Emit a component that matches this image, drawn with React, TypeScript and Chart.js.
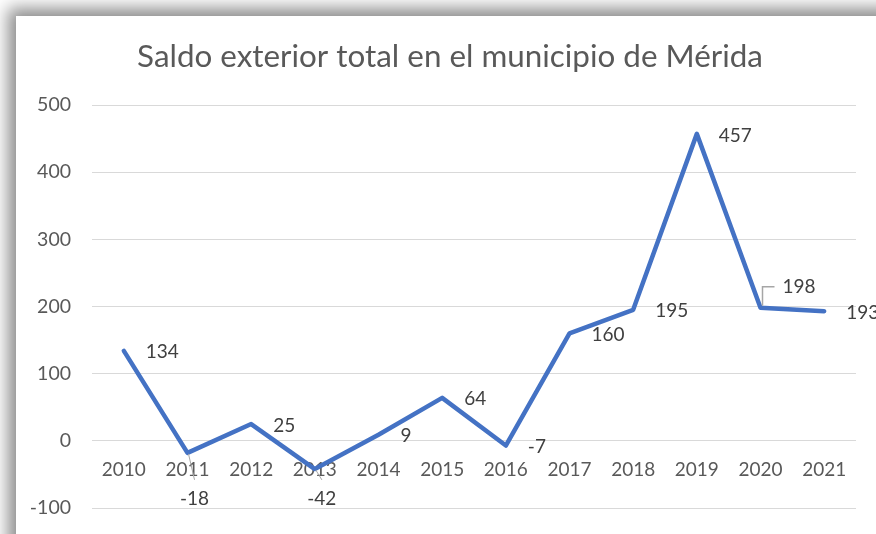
import React, { useEffect, useRef } from "react";
import { Chart, registerables } from "chart.js";

Chart.register(...registerables);

const years = ["2010", "2011", "2012", "2013", "2014", "2015", "2016", "2017", "2018", "2019", "2020", "2021"];
const saldo = [134, -18, 25, -42, 9, 64, -7, 160, 195, 457, 198, 193];
const yMin = -100;
const yMax = 500;
const yStep = 100;
const titleText = "Saldo exterior total en el municipio de Mérida";
// label placement style per point
const labelPlacement = ["right", "below", "right", "below", "right", "right", "right", "right", "right", "right", "callout", "right"];

const FONT = "Lato, 'Open Sans', sans-serif";

const titlePlugin = {
  id: "customTitle",
  afterDraw(chart: any) {
    const ctx = chart.ctx;
    ctx.save();
    ctx.font = `31.4px ${FONT}`;
    ctx.fillStyle = "#595959";
    ctx.textAlign = "center";
    ctx.textBaseline = "middle";
    ctx.fillText(titleText, chart.width / 2 + 4, 41);
    ctx.restore();
  },
};

const dataLabelPlugin = {
  id: "dataLabels",
  afterDatasetsDraw(chart: any) {
    const ctx = chart.ctx;
    const meta = chart.getDatasetMeta(0);
    const zeroY = chart.scales.y.getPixelForValue(0);
    ctx.save();
    ctx.font = `19px ${FONT}`;
    ctx.fillStyle = "#404040";
    ctx.textBaseline = "middle";
    meta.data.forEach((pt: any, i: number) => {
      const x = pt.x;
      const y = pt.y;
      const txt = String(saldo[i]);
      const place = labelPlacement[i];
      if (place === "right") {
        ctx.textAlign = "left";
        ctx.fillText(txt, x + 22, y + 1.5);
      } else if (place === "below") {
        const cy = zeroY + 58;
        ctx.strokeStyle = "#A6A6A6";
        ctx.lineWidth = 1;
        ctx.beginPath();
        ctx.moveTo(x + 1, y + 1);
        ctx.lineTo(x + 7, cy - 19);
        ctx.stroke();
        ctx.textAlign = "center";
        ctx.fillText(txt, x + 7, cy);
      } else if (place === "callout") {
        ctx.strokeStyle = "#A6A6A6";
        ctx.lineWidth = 1.5;
        ctx.beginPath();
        ctx.moveTo(x + 2, y - 2);
        ctx.lineTo(x + 2, y - 21);
        ctx.lineTo(x + 14, y - 21);
        ctx.stroke();
        ctx.textAlign = "left";
        ctx.fillText(txt, x + 22, y - 21);
      }
    });
    ctx.restore();
  },
};

export default function App() {
  const ref = useRef<HTMLCanvasElement | null>(null);
  useEffect(() => {
    if (!ref.current) return;
    const chart = new Chart(ref.current, {
      type: "line",
      data: {
        labels: years,
        datasets: [
          {
            data: saldo,
            borderColor: "#4472C4",
            borderWidth: 4.5,
            borderCapStyle: "round",
            borderJoinStyle: "round",
            pointRadius: 0,
            tension: 0,
            fill: false,
          },
        ],
      },
      options: {
        animation: false,
        responsive: false,
        layout: { padding: { left: 0, right: 20, top: 89, bottom: 26 } },
        plugins: {
          legend: { display: false },
          tooltip: { enabled: false },
          title: { display: false },
        },
        scales: {
          x: {
            type: "category",
            offset: true,
            position: { y: 0 } as any,
            grid: { display: false, drawTicks: false },
            border: { display: false },
            ticks: {
              color: "#595959",
              font: { family: FONT, size: 19 },
              padding: 17.5,
              maxRotation: 0,
              autoSkip: false,
            },
            afterFit(scale: any) {
              scale.height = 0;
            },
          },
          y: {
            min: yMin,
            max: yMax,
            ticks: {
              stepSize: yStep,
              color: "#595959",
              font: { family: FONT, size: 19.5 },
              padding: 0,
            },
            grid: { color: "#D9D9D9", lineWidth: 1, drawTicks: true, tickLength: 21, tickColor: "rgba(0,0,0,0)" },
            border: { display: false },
            afterFit(scale: any) {
              scale.width = 76;
            },
          },
        },
      },
      plugins: [dataLabelPlugin, titlePlugin],
    });
    return () => chart.destroy();
  }, []);

  return (
    <div style={{ position: "fixed", left: 0, top: 0, width: 876, height: 534, background: "#fff", overflow: "hidden" }}>
      <div
        style={{
          position: "absolute",
          left: 16,
          top: 16,
          width: 920,
          height: 580,
          background: "#fff",
          boxShadow: "0 0 16px 8px rgba(0,0,0,0.45)",
        }}
      >
        <canvas ref={ref} width={860} height={518} style={{ display: "block", width: 860, height: 518 }} />
      </div>
    </div>
  );
}
